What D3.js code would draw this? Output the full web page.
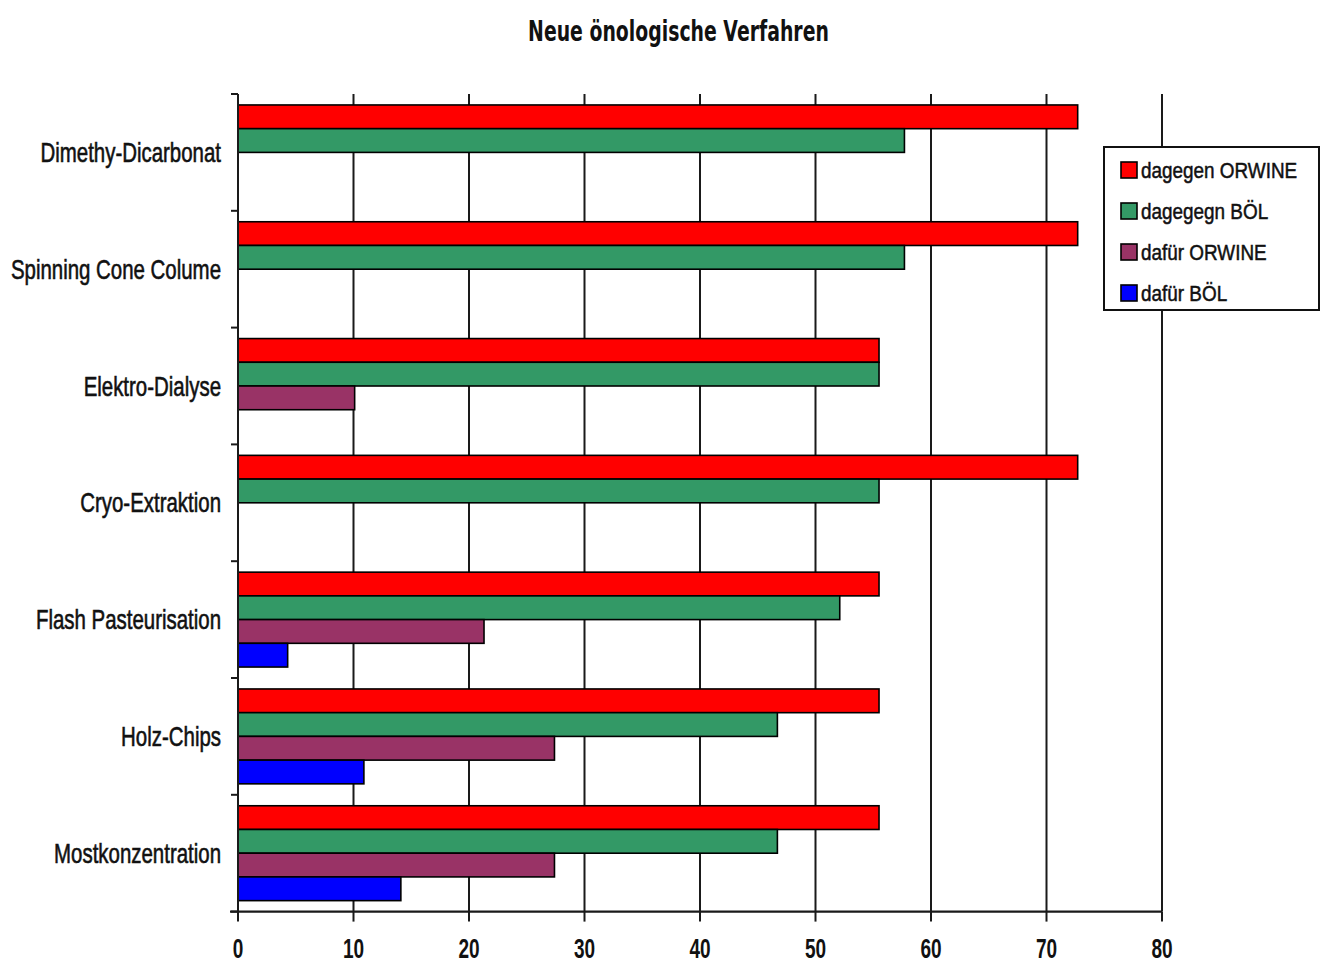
<!DOCTYPE html>
<html>
<head>
<meta charset="utf-8">
<script src="https://cdn.jsdelivr.net/npm/d3@7"></script>
<style>
  html, body { margin: 0; padding: 0; background: #fff; }
  svg { display: block; }
</style>
</head>
<body>
<svg id="chart" width="1326" height="964"></svg>
<script>
// Verfahren (top to bottom)
const categories = [
  "Dimethy-Dicarbonat",
  "Spinning Cone Colume",
  "Elektro-Dialyse",
  "Cryo-Extraktion",
  "Flash Pasteurisation",
  "Holz-Chips",
  "Mostkonzentration"
];
const seriesNames = ["dagegen ORWINE", "dagegegn BÖL", "dafür ORWINE", "dafür BÖL"];
const seriesColors = ["#ff0000", "#339966", "#993366", "#0000ff"];

// Werte je Serie, in der Reihenfolge der Verfahren (null = kein Balken)
const dagegenOrwine = [72.7, 72.7, 55.5, 72.7, 55.5, 55.5, 55.5];
const dagegenBoel   = [57.7, 57.7, 55.5, 55.5, 52.1, 46.7, 46.7];
const dafuerOrwine  = [null, null, 10.1, null, 21.3, 27.4, 27.4];
const dafuerBoel    = [null, null, null, null, 4.3, 10.9, 14.1];

const xTicks = [0, 10, 20, 30, 40, 50, 60, 70, 80];
const title = "Neue önologische Verfahren";

const seriesValues = [dagegenOrwine, dagegenBoel, dafuerOrwine, dafuerBoel];

const svg = d3.select("#chart");
const plot = { left: 238, right: 1162, top: 94, bottom: 911.6 };

const x = d3.scaleLinear().domain([0, 80]).range([plot.left, plot.right]);
const y = d3.scaleBand().domain(categories).range([plot.top, plot.bottom]).padding(0);
const ySub = d3.scaleBand().domain(seriesNames).range([0, y.bandwidth()])
  .paddingInner(0).paddingOuter(0.462);

const FONT = "'Liberation Sans', Arial, Helvetica, sans-serif";

// text squeezed horizontally to mimic a narrow face
function narrowText(g, str, px, py, size, sx, anchor, weight, family) {
  return g.append("text")
    .attr("transform", `translate(${px},${py}) scale(${sx},1)`)
    .attr("text-anchor", anchor)
    .attr("font-family", family || FONT)
    .attr("font-size", size)
    .attr("font-weight", weight || "normal")
    .attr("fill", "#111")
    .text(str);
}

// Title
const t = narrowText(svg, title, 0, 41, 28, 1, "middle", "bold", "'DejaVu Sans', 'Liberation Sans', sans-serif");
const tw = t.node().getComputedTextLength();
t.attr("transform", `translate(678.5,41) scale(${301 / tw},1)`);

// Vertical gridlines
svg.append("g").selectAll("line").data(xTicks.filter(d => d > 0)).join("line")
  .attr("x1", d => x(d)).attr("x2", d => x(d))
  .attr("y1", plot.top).attr("y2", plot.bottom)
  .attr("stroke", "#1a1a1a").attr("stroke-width", 2);

// Bars
const groups = svg.append("g").selectAll("g").data(categories).join("g")
  .attr("transform", d => `translate(0,${y(d)})`);

groups.each(function (cat, ci) {
  const rows = seriesNames.map((s, si) => ({ s, si, v: seriesValues[si][ci] }))
    .filter(r => r.v != null);
  d3.select(this).selectAll("rect").data(rows).join("rect")
    .attr("x", x(0))
    .attr("y", r => ySub(r.s))
    .attr("width", r => x(r.v) - x(0))
    .attr("height", ySub.bandwidth())
    .attr("fill", r => seriesColors[r.si])
    .attr("stroke", "#000")
    .attr("stroke-width", 1.6);
});

// Y axis
const yAxisG = svg.append("g");
yAxisG.append("line")
  .attr("x1", plot.left).attr("x2", plot.left)
  .attr("y1", plot.top).attr("y2", plot.bottom)
  .attr("stroke", "#1a1a1a").attr("stroke-width", 2);
const yBounds = categories.map(c => y(c)).concat([plot.bottom]);
yAxisG.selectAll("line.tick").data(yBounds).join("line")
  .attr("class", "tick")
  .attr("x1", plot.left - 7).attr("x2", plot.left)
  .attr("y1", d => d).attr("y2", d => d)
  .attr("stroke", "#1a1a1a").attr("stroke-width", 2);
categories.forEach(c => {
  narrowText(yAxisG, c, 221, y(c) + y.bandwidth() / 2 + 9.5, 28, 0.73, "end")
    .attr("stroke", "#111").attr("stroke-width", 0.6);
});

// X axis
const xAxisG = svg.append("g");
xAxisG.append("line")
  .attr("x1", plot.left - 8).attr("x2", plot.right)
  .attr("y1", plot.bottom).attr("y2", plot.bottom)
  .attr("stroke", "#1a1a1a").attr("stroke-width", 2.4);
xAxisG.selectAll("line.tick").data(xTicks).join("line")
  .attr("class", "tick")
  .attr("x1", d => x(d)).attr("x2", d => x(d))
  .attr("y1", plot.bottom).attr("y2", plot.bottom + 10)
  .attr("stroke", "#1a1a1a").attr("stroke-width", 2);
xTicks.forEach(v => {
  narrowText(xAxisG, String(v), x(v), 958, 28, 0.68, "middle", "bold");
});

// Legend
const lg = svg.append("g");
lg.append("rect")
  .attr("x", 1104).attr("y", 147).attr("width", 215).attr("height", 163)
  .attr("fill", "#fff").attr("stroke", "#111").attr("stroke-width", 2);
seriesNames.forEach((s, i) => {
  const cy = 170 + i * 41;
  lg.append("rect")
    .attr("x", 1121).attr("y", cy - 8).attr("width", 16).attr("height", 16)
    .attr("fill", seriesColors[i]).attr("stroke", "#000").attr("stroke-width", 1.6);
  narrowText(lg, s, 1141, cy + 7.5, 22, 0.86, "start")
    .attr("stroke", "#111").attr("stroke-width", 0.5);
});
</script>
</body>
</html>
